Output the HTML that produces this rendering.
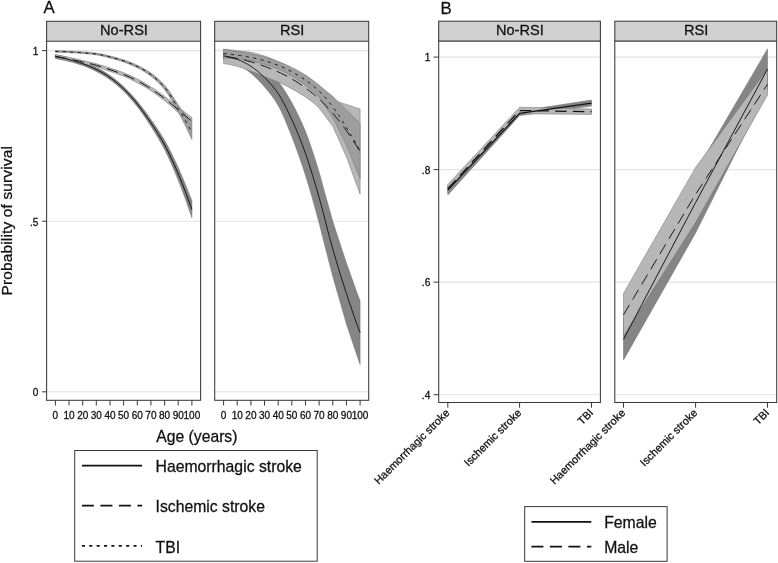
<!DOCTYPE html>
<html><head><meta charset="utf-8"><title>Figure</title>
<style>html,body{margin:0;padding:0;background:#fff;}body{width:778px;height:563px;overflow:hidden;font-family:"Liberation Sans",sans-serif;}svg text{stroke:#111;stroke-width:0.28px;}</style>
</head><body>
<svg width="778" height="563" viewBox="0 0 778 563" style="display:block;will-change:transform;filter:grayscale(1);font-family:'Liberation Sans',sans-serif" fill="#111">
<rect width="778" height="563" fill="#fff"/>
<line x1="46.6" x2="200.6" y1="50.6" y2="50.6" stroke="#e3e3e3" stroke-width="1.1"/>
<line x1="46.6" x2="200.6" y1="221.2" y2="221.2" stroke="#e3e3e3" stroke-width="1.1"/>
<line x1="46.6" x2="200.6" y1="391.8" y2="391.8" stroke="#e3e3e3" stroke-width="1.1"/>
<line x1="214.7" x2="368.7" y1="50.6" y2="50.6" stroke="#e3e3e3" stroke-width="1.1"/>
<line x1="214.7" x2="368.7" y1="221.2" y2="221.2" stroke="#e3e3e3" stroke-width="1.1"/>
<line x1="214.7" x2="368.7" y1="391.8" y2="391.8" stroke="#e3e3e3" stroke-width="1.1"/>
<path d="M55.4,54.8 L58.8,55.4 L62.2,56.1 L65.6,56.8 L69.0,57.7 L72.5,58.5 L75.9,59.5 L79.3,60.6 L82.7,61.7 L86.1,63.0 L89.5,64.3 L92.9,65.8 L96.3,67.4 L99.7,69.2 L103.2,71.1 L106.6,73.2 L110.0,75.5 L113.4,77.9 L116.8,80.6 L120.2,83.5 L123.6,86.5 L127.0,89.9 L130.4,93.5 L133.9,97.3 L137.3,101.3 L140.7,105.5 L144.1,110.0 L147.5,114.6 L150.9,119.4 L154.3,124.3 L157.7,129.3 L161.1,134.6 L164.6,140.3 L168.0,146.5 L171.4,153.1 L174.8,160.2 L178.2,167.5 L181.6,175.2 L185.0,183.4 L188.4,191.9 L191.9,200.8 L191.9,217.8 L188.4,207.7 L185.0,198.0 L181.6,188.8 L178.2,180.1 L174.8,171.8 L171.4,163.9 L168.0,156.4 L164.6,149.5 L161.1,143.1 L157.7,137.2 L154.3,131.6 L150.9,126.2 L147.5,121.0 L144.1,116.0 L140.7,111.2 L137.3,106.7 L133.9,102.5 L130.4,98.4 L127.0,94.6 L123.6,91.1 L120.2,87.9 L116.8,84.9 L113.4,82.2 L110.0,79.7 L106.6,77.3 L103.2,75.2 L99.7,73.2 L96.3,71.4 L92.9,69.7 L89.5,68.2 L86.1,66.8 L82.7,65.5 L79.3,64.4 L75.9,63.3 L72.5,62.3 L69.0,61.5 L65.6,60.6 L62.2,59.9 L58.8,59.2 L55.4,58.6Z" fill="#858585" stroke="#6e6e6e" stroke-width="0.5"/>
<path d="M55.4,54.5 L58.8,55.2 L62.2,55.9 L65.6,56.6 L69.0,57.3 L72.5,58.0 L75.9,58.8 L79.3,59.6 L82.7,60.4 L86.1,61.2 L89.5,62.0 L92.9,62.8 L96.3,63.7 L99.7,64.7 L103.2,65.8 L106.6,66.9 L110.0,68.0 L113.4,69.1 L116.8,70.2 L120.2,71.4 L123.6,72.7 L127.0,74.1 L130.4,75.6 L133.9,77.2 L137.3,78.9 L140.7,80.7 L144.1,82.6 L147.5,84.7 L150.9,86.8 L154.3,89.0 L157.7,91.4 L161.1,93.8 L164.6,96.3 L168.0,98.9 L171.4,101.5 L174.8,104.2 L178.2,106.9 L181.6,109.6 L185.0,112.2 L188.4,114.9 L191.9,117.5 L191.9,124.9 L188.4,121.7 L185.0,118.6 L181.6,115.5 L178.2,112.5 L174.8,109.5 L171.4,106.4 L168.0,103.5 L164.6,100.7 L161.1,98.1 L157.7,95.5 L154.3,93.1 L150.9,90.8 L147.5,88.6 L144.1,86.5 L140.7,84.6 L137.3,82.7 L133.9,81.0 L130.4,79.3 L127.0,77.7 L123.6,76.3 L120.2,75.0 L116.8,73.7 L113.4,72.6 L110.0,71.4 L106.6,70.2 L103.2,69.0 L99.7,67.9 L96.3,66.9 L92.9,66.0 L89.5,65.2 L86.1,64.4 L82.7,63.6 L79.3,62.8 L75.9,62.1 L72.5,61.4 L69.0,60.7 L65.6,60.0 L62.2,59.4 L58.8,58.7 L55.4,58.1Z" fill="#b7b7b7" stroke="#6e6e6e" stroke-width="0.5"/>
<path d="M55.4,50.6 L58.8,50.7 L62.2,50.8 L65.6,50.9 L69.0,51.1 L72.5,51.3 L75.9,51.4 L79.3,51.7 L82.7,51.9 L86.1,52.1 L89.5,52.4 L92.9,52.7 L96.3,53.1 L99.7,53.7 L103.2,54.4 L106.6,55.1 L110.0,56.0 L113.4,56.8 L116.8,57.7 L120.2,58.7 L123.6,59.8 L127.0,61.0 L130.4,62.3 L133.9,63.7 L137.3,65.2 L140.7,66.9 L144.1,68.7 L147.5,70.7 L150.9,73.0 L154.3,75.5 L157.7,78.4 L161.1,81.6 L164.6,85.2 L168.0,89.4 L171.4,94.3 L174.8,99.6 L178.2,104.8 L181.6,109.8 L185.0,114.9 L188.4,120.0 L191.9,125.2 L191.9,139.4 L188.4,132.0 L185.0,125.0 L181.6,118.3 L178.2,112.0 L174.8,105.8 L171.4,99.8 L168.0,94.3 L164.6,89.6 L161.1,85.6 L157.7,82.1 L154.3,78.9 L150.9,76.2 L147.5,73.7 L144.1,71.6 L140.7,69.6 L137.3,67.8 L133.9,66.2 L130.4,64.7 L127.0,63.3 L123.6,62.0 L120.2,60.9 L116.8,59.8 L113.4,58.9 L110.0,58.0 L106.6,57.1 L103.2,56.3 L99.7,55.5 L96.3,54.9 L92.9,54.5 L89.5,54.1 L86.1,53.8 L82.7,53.5 L79.3,53.3 L75.9,53.0 L72.5,52.9 L69.0,52.7 L65.6,52.5 L62.2,52.4 L58.8,52.3 L55.4,52.2Z" fill="#9e9e9e" stroke="#6e6e6e" stroke-width="0.5"/>
<path d="M55.4,56.7 L58.8,57.3 L62.2,58.0 L65.6,58.7 L69.0,59.6 L72.5,60.4 L75.9,61.4 L79.3,62.5 L82.7,63.6 L86.1,64.9 L89.5,66.3 L92.9,67.8 L96.3,69.4 L99.7,71.2 L103.2,73.1 L106.6,75.3 L110.0,77.6 L113.4,80.0 L116.8,82.8 L120.2,85.7 L123.6,88.8 L127.0,92.2 L130.4,95.9 L133.9,99.9 L137.3,104.0 L140.7,108.4 L144.1,113.0 L147.5,117.8 L150.9,122.8 L154.3,127.9 L157.7,133.2 L161.1,138.9 L164.6,144.9 L168.0,151.4 L171.4,158.5 L174.8,166.0 L178.2,173.8 L181.6,182.0 L185.0,190.7 L188.4,199.8 L191.9,209.3" fill="none" stroke="#111" stroke-width="1.0"/>
<path d="M55.4,56.3 L58.8,56.9 L62.2,57.6 L65.6,58.3 L69.0,59.0 L72.5,59.7 L75.9,60.5 L79.3,61.2 L82.7,62.0 L86.1,62.8 L89.5,63.6 L92.9,64.4 L96.3,65.3 L99.7,66.3 L103.2,67.4 L106.6,68.5 L110.0,69.7 L113.4,70.8 L116.8,72.0 L120.2,73.2 L123.6,74.5 L127.0,75.9 L130.4,77.4 L133.9,79.1 L137.3,80.8 L140.7,82.6 L144.1,84.6 L147.5,86.6 L150.9,88.8 L154.3,91.1 L157.7,93.4 L161.1,95.9 L164.6,98.5 L168.0,101.2 L171.4,104.0 L174.8,106.8 L178.2,109.7 L181.6,112.5 L185.0,115.4 L188.4,118.3 L191.9,121.2" fill="none" stroke="#111" stroke-width="1.0" stroke-dasharray="11.5 6.2"/>
<path d="M55.4,51.4 L58.8,51.5 L62.2,51.6 L65.6,51.7 L69.0,51.9 L72.5,52.1 L75.9,52.2 L79.3,52.5 L82.7,52.7 L86.1,53.0 L89.5,53.3 L92.9,53.6 L96.3,54.0 L99.7,54.6 L103.2,55.3 L106.6,56.1 L110.0,57.0 L113.4,57.8 L116.8,58.8 L120.2,59.8 L123.6,60.9 L127.0,62.2 L130.4,63.5 L133.9,65.0 L137.3,66.5 L140.7,68.3 L144.1,70.2 L147.5,72.2 L150.9,74.6 L154.3,77.2 L157.7,80.2 L161.1,83.6 L164.6,87.4 L168.0,91.8 L171.4,97.1 L174.8,102.7 L178.2,108.4 L181.6,114.1 L185.0,119.9 L188.4,126.0 L191.9,132.3" fill="none" stroke="#111" stroke-width="1.0" stroke-dasharray="3.0 4.5"/>
<path d="M223.6,52.9 L227.0,53.2 L230.4,53.7 L233.8,54.2 L237.2,54.9 L240.7,55.7 L244.1,56.7 L247.5,57.9 L250.9,59.3 L254.3,61.0 L257.7,63.1 L261.1,65.6 L264.5,68.2 L267.9,71.0 L271.4,74.2 L274.8,77.7 L278.2,81.6 L281.6,86.0 L285.0,91.1 L288.4,96.7 L291.8,102.6 L295.2,109.0 L298.6,115.9 L302.1,123.4 L305.5,131.5 L308.9,140.5 L312.3,150.4 L315.7,161.0 L319.1,172.0 L322.5,184.4 L325.9,196.8 L329.3,209.1 L332.8,221.5 L336.2,231.9 L339.6,242.2 L343.0,252.6 L346.4,263.0 L349.8,272.5 L353.2,282.1 L356.6,291.6 L360.1,301.1 L360.1,364.5 L356.6,354.4 L353.2,344.2 L349.8,334.1 L346.4,324.0 L343.0,312.1 L339.6,300.2 L336.2,288.4 L332.8,276.5 L329.3,263.1 L325.9,249.8 L322.5,236.4 L319.1,223.0 L315.7,210.5 L312.3,198.3 L308.9,186.6 L305.5,175.5 L302.1,165.0 L298.6,155.0 L295.2,145.5 L291.8,136.6 L288.4,128.0 L285.0,119.7 L281.6,112.1 L278.2,105.6 L274.8,100.1 L271.4,95.2 L267.9,90.9 L264.5,86.8 L261.1,83.0 L257.7,79.5 L254.3,76.2 L250.9,73.3 L247.5,70.6 L244.1,68.0 L240.7,65.8 L237.2,63.9 L233.8,62.3 L230.4,60.9 L227.0,59.8 L223.6,58.9Z" fill="#858585" stroke="#6e6e6e" stroke-width="0.5"/>
<path d="M223.6,49.2 L227.0,49.6 L230.4,49.9 L233.8,50.3 L237.2,50.7 L240.7,51.1 L244.1,51.4 L247.5,51.8 L250.9,52.3 L254.3,53.0 L257.7,53.9 L261.1,54.9 L264.5,56.0 L267.9,57.2 L271.4,58.6 L274.8,60.2 L278.2,61.7 L281.6,63.3 L285.0,65.1 L288.4,66.9 L291.8,68.9 L295.2,71.1 L298.6,73.5 L302.1,76.1 L305.5,78.7 L308.9,81.5 L312.3,84.3 L315.7,87.2 L319.1,90.0 L322.5,92.5 L325.9,95.1 L329.3,97.7 L332.8,100.2 L336.2,101.3 L339.6,102.3 L343.0,103.4 L346.4,104.4 L349.8,105.5 L353.2,106.7 L356.6,107.8 L360.1,108.9 L360.1,194.1 L356.6,184.8 L353.2,175.4 L349.8,166.1 L346.4,156.8 L343.0,149.2 L339.6,141.5 L336.2,133.9 L332.8,126.2 L329.3,121.7 L325.9,117.1 L322.5,112.5 L319.1,108.0 L315.7,104.8 L312.3,102.0 L308.9,99.5 L305.5,97.1 L302.1,94.9 L298.6,92.7 L295.2,90.7 L291.8,88.9 L288.4,87.0 L285.0,85.3 L281.6,83.7 L278.2,82.1 L274.8,80.7 L271.4,79.3 L267.9,77.9 L264.5,76.6 L261.1,75.3 L257.7,73.9 L254.3,72.6 L250.9,71.3 L247.5,70.0 L244.1,68.6 L240.7,67.4 L237.2,66.3 L233.8,65.5 L230.4,64.7 L227.0,64.1 L223.6,63.6Z" fill="#b7b7b7" stroke="#6e6e6e" stroke-width="0.5"/>
<path d="M223.6,49.3 L227.0,49.8 L230.4,50.3 L233.8,50.9 L237.2,51.5 L240.7,52.1 L244.1,52.7 L247.5,53.3 L250.9,54.0 L254.3,54.7 L257.7,55.4 L261.1,56.2 L264.5,57.1 L267.9,58.0 L271.4,59.1 L274.8,60.2 L278.2,61.5 L281.6,62.8 L285.0,64.2 L288.4,65.7 L291.8,67.4 L295.2,69.1 L298.6,70.9 L302.1,72.9 L305.5,75.0 L308.9,77.3 L312.3,79.8 L315.7,82.4 L319.1,85.1 L322.5,87.9 L325.9,90.7 L329.3,93.5 L332.8,96.3 L336.2,99.7 L339.6,103.2 L343.0,106.6 L346.4,110.0 L349.8,113.4 L353.2,116.8 L356.6,120.1 L360.1,123.5 L360.1,178.1 L356.6,169.8 L353.2,161.6 L349.8,153.3 L346.4,145.0 L343.0,138.1 L339.6,131.2 L336.2,124.2 L332.8,117.3 L329.3,112.3 L325.9,107.2 L322.5,102.2 L319.1,97.1 L315.7,93.6 L312.3,90.6 L308.9,87.8 L305.5,85.2 L302.1,82.7 L298.6,80.4 L295.2,78.2 L291.8,76.2 L288.4,74.2 L285.0,72.3 L281.6,70.6 L278.2,69.1 L274.8,67.7 L271.4,66.5 L267.9,65.3 L264.5,64.3 L261.1,63.3 L257.7,62.4 L254.3,61.5 L250.9,60.8 L247.5,60.2 L244.1,59.5 L240.7,59.0 L237.2,58.7 L233.8,58.5 L230.4,58.3 L227.0,58.1 L223.6,58.1Z" fill="#9e9e9e" stroke="#6e6e6e" stroke-width="0.5"/>
<path d="M223.6,55.9 L227.0,56.5 L230.4,57.3 L233.8,58.3 L237.2,59.4 L240.7,60.7 L244.1,62.4 L247.5,64.2 L250.9,66.3 L254.3,68.6 L257.7,71.3 L261.1,74.3 L264.5,77.5 L267.9,80.9 L271.4,84.7 L274.8,88.9 L278.2,93.6 L281.6,99.1 L285.0,105.4 L288.4,112.3 L291.8,119.6 L295.2,127.2 L298.6,135.4 L302.1,144.2 L305.5,153.5 L308.9,163.5 L312.3,174.4 L315.7,185.7 L319.1,197.5 L322.5,210.0 L325.9,223.2 L329.3,236.5 L332.8,249.0 L336.2,260.7 L339.6,272.0 L343.0,282.9 L346.4,293.5 L349.8,303.8 L353.2,313.8 L356.6,323.5 L360.1,332.8" fill="none" stroke="#111" stroke-width="0.9"/>
<path d="M223.6,56.4 L227.0,56.8 L230.4,57.3 L233.8,57.9 L237.2,58.5 L240.7,59.2 L244.1,60.0 L247.5,60.9 L250.9,61.8 L254.3,62.8 L257.7,63.9 L261.1,65.1 L264.5,66.3 L267.9,67.6 L271.4,69.0 L274.8,70.4 L278.2,71.9 L281.6,73.5 L285.0,75.2 L288.4,77.0 L291.8,78.9 L295.2,80.9 L298.6,83.1 L302.1,85.5 L305.5,87.9 L308.9,90.5 L312.3,93.1 L315.7,96.0 L319.1,99.0 L322.5,102.2 L325.9,105.7 L329.3,109.4 L332.8,113.2 L336.2,117.3 L339.6,121.5 L343.0,126.0 L346.4,130.6 L349.8,135.5 L353.2,140.6 L356.6,145.9 L360.1,151.5" fill="none" stroke="#111" stroke-width="0.95" stroke-dasharray="11.4 6.1" stroke-dashoffset="-3.0"/>
<path d="M223.6,53.7 L227.0,53.9 L230.4,54.3 L233.8,54.7 L237.2,55.1 L240.7,55.6 L244.1,56.1 L247.5,56.8 L250.9,57.4 L254.3,58.1 L257.7,58.9 L261.1,59.7 L264.5,60.7 L267.9,61.7 L271.4,62.8 L274.8,64.0 L278.2,65.3 L281.6,66.7 L285.0,68.3 L288.4,70.0 L291.8,71.8 L295.2,73.6 L298.6,75.7 L302.1,77.8 L305.5,80.1 L308.9,82.6 L312.3,85.2 L315.7,88.0 L319.1,91.1 L322.5,94.5 L325.9,98.3 L329.3,102.4 L332.8,106.8 L336.2,111.5 L339.6,116.6 L343.0,122.0 L346.4,127.5 L349.8,133.1 L353.2,138.8 L356.6,144.7 L360.1,150.8" fill="none" stroke="#111" stroke-width="0.95" stroke-dasharray="3.0 4.5"/>
<rect x="46.6" y="21.3" width="154.0" height="20.0" fill="#d0d0d0"/>
<rect x="46.6" y="21.3" width="154.0" height="379.0" fill="none" stroke="#3a3a3a" stroke-width="1.05"/>
<line x1="46.6" x2="200.6" y1="41.3" y2="41.3" stroke="#3a3a3a" stroke-width="1.05"/>
<text x="124.0" y="35.2" font-size="14.6" text-anchor="middle">No-RSI</text>
<rect x="214.7" y="21.3" width="154.0" height="20.0" fill="#d0d0d0"/>
<rect x="214.7" y="21.3" width="154.0" height="379.0" fill="none" stroke="#3a3a3a" stroke-width="1.05"/>
<line x1="214.7" x2="368.7" y1="41.3" y2="41.3" stroke="#3a3a3a" stroke-width="1.05"/>
<text x="292.1" y="35.2" font-size="14.6" text-anchor="middle">RSI</text>
<line x1="42.0" x2="46.6" y1="50.6" y2="50.6" stroke="#3a3a3a" stroke-width="1.0"/>
<text x="38.3" y="55.1" font-size="10" text-anchor="end">1</text>
<line x1="42.0" x2="46.6" y1="221.2" y2="221.2" stroke="#3a3a3a" stroke-width="1.0"/>
<text x="38.3" y="225.7" font-size="10" text-anchor="end">.5</text>
<line x1="42.0" x2="46.6" y1="391.8" y2="391.8" stroke="#3a3a3a" stroke-width="1.0"/>
<text x="38.3" y="396.3" font-size="10" text-anchor="end">0</text>
<line x1="55.4" x2="55.4" y1="400.3" y2="405.5" stroke="#3a3a3a" stroke-width="1.0"/>
<text x="55.4" y="418.9" font-size="10" text-anchor="middle">0</text>
<line x1="69.0" x2="69.0" y1="400.3" y2="405.5" stroke="#3a3a3a" stroke-width="1.0"/>
<text x="69.0" y="418.9" font-size="10" text-anchor="middle">10</text>
<line x1="82.7" x2="82.7" y1="400.3" y2="405.5" stroke="#3a3a3a" stroke-width="1.0"/>
<text x="82.7" y="418.9" font-size="10" text-anchor="middle">20</text>
<line x1="96.3" x2="96.3" y1="400.3" y2="405.5" stroke="#3a3a3a" stroke-width="1.0"/>
<text x="96.3" y="418.9" font-size="10" text-anchor="middle">30</text>
<line x1="110.0" x2="110.0" y1="400.3" y2="405.5" stroke="#3a3a3a" stroke-width="1.0"/>
<text x="110.0" y="418.9" font-size="10" text-anchor="middle">40</text>
<line x1="123.6" x2="123.6" y1="400.3" y2="405.5" stroke="#3a3a3a" stroke-width="1.0"/>
<text x="123.6" y="418.9" font-size="10" text-anchor="middle">50</text>
<line x1="137.3" x2="137.3" y1="400.3" y2="405.5" stroke="#3a3a3a" stroke-width="1.0"/>
<text x="137.3" y="418.9" font-size="10" text-anchor="middle">60</text>
<line x1="150.9" x2="150.9" y1="400.3" y2="405.5" stroke="#3a3a3a" stroke-width="1.0"/>
<text x="150.9" y="418.9" font-size="10" text-anchor="middle">70</text>
<line x1="164.6" x2="164.6" y1="400.3" y2="405.5" stroke="#3a3a3a" stroke-width="1.0"/>
<text x="164.6" y="418.9" font-size="10" text-anchor="middle">80</text>
<line x1="178.2" x2="178.2" y1="400.3" y2="405.5" stroke="#3a3a3a" stroke-width="1.0"/>
<text x="178.2" y="418.9" font-size="10" text-anchor="middle">90</text>
<line x1="191.9" x2="191.9" y1="400.3" y2="405.5" stroke="#3a3a3a" stroke-width="1.0"/>
<text x="191.9" y="418.9" font-size="10" text-anchor="middle">100</text>
<line x1="223.6" x2="223.6" y1="400.3" y2="405.5" stroke="#3a3a3a" stroke-width="1.0"/>
<text x="223.6" y="418.9" font-size="10" text-anchor="middle">0</text>
<line x1="237.2" x2="237.2" y1="400.3" y2="405.5" stroke="#3a3a3a" stroke-width="1.0"/>
<text x="237.2" y="418.9" font-size="10" text-anchor="middle">10</text>
<line x1="250.9" x2="250.9" y1="400.3" y2="405.5" stroke="#3a3a3a" stroke-width="1.0"/>
<text x="250.9" y="418.9" font-size="10" text-anchor="middle">20</text>
<line x1="264.5" x2="264.5" y1="400.3" y2="405.5" stroke="#3a3a3a" stroke-width="1.0"/>
<text x="264.5" y="418.9" font-size="10" text-anchor="middle">30</text>
<line x1="278.2" x2="278.2" y1="400.3" y2="405.5" stroke="#3a3a3a" stroke-width="1.0"/>
<text x="278.2" y="418.9" font-size="10" text-anchor="middle">40</text>
<line x1="291.8" x2="291.8" y1="400.3" y2="405.5" stroke="#3a3a3a" stroke-width="1.0"/>
<text x="291.8" y="418.9" font-size="10" text-anchor="middle">50</text>
<line x1="305.5" x2="305.5" y1="400.3" y2="405.5" stroke="#3a3a3a" stroke-width="1.0"/>
<text x="305.5" y="418.9" font-size="10" text-anchor="middle">60</text>
<line x1="319.1" x2="319.1" y1="400.3" y2="405.5" stroke="#3a3a3a" stroke-width="1.0"/>
<text x="319.1" y="418.9" font-size="10" text-anchor="middle">70</text>
<line x1="332.8" x2="332.8" y1="400.3" y2="405.5" stroke="#3a3a3a" stroke-width="1.0"/>
<text x="332.8" y="418.9" font-size="10" text-anchor="middle">80</text>
<line x1="346.4" x2="346.4" y1="400.3" y2="405.5" stroke="#3a3a3a" stroke-width="1.0"/>
<text x="346.4" y="418.9" font-size="10" text-anchor="middle">90</text>
<line x1="360.1" x2="360.1" y1="400.3" y2="405.5" stroke="#3a3a3a" stroke-width="1.0"/>
<text x="360.1" y="418.9" font-size="10" text-anchor="middle">100</text>
<text x="196.9" y="441.6" font-size="15.7" text-anchor="middle">Age (years)</text>
<text transform="translate(12.3,220.8) rotate(-90)" font-size="15.5" text-anchor="middle" textLength="149.4" lengthAdjust="spacing">Probability of survival</text>
<text x="43.6" y="12.9" font-size="16.8">A</text>
<rect x="74.7" y="450.5" width="242.5" height="110.7" fill="#fff" stroke="#3a3a3a" stroke-width="1.0"/>
<line x1="81.9" x2="142.1" y1="465.6" y2="465.6" stroke="#111" stroke-width="1.8"/>
<line x1="81.9" x2="142.1" y1="505.7" y2="505.7" stroke="#111" stroke-width="1.8" stroke-dasharray="12 6.5"/>
<line x1="81.9" x2="142.1" y1="545.9" y2="545.9" stroke="#111" stroke-width="1.8" stroke-dasharray="3.0 4.375"/>
<text x="155.6" y="472.2" font-size="15.75">Haemorrhagic stroke</text>
<text x="155.6" y="512.3" font-size="15.75">Ischemic stroke</text>
<text x="155.6" y="552.7" font-size="15.75">TBI</text>
<line x1="438.7" x2="600.4" y1="57.1" y2="57.1" stroke="#e3e3e3" stroke-width="1.1"/>
<line x1="438.7" x2="600.4" y1="169.6" y2="169.6" stroke="#e3e3e3" stroke-width="1.1"/>
<line x1="438.7" x2="600.4" y1="282.1" y2="282.1" stroke="#e3e3e3" stroke-width="1.1"/>
<line x1="438.7" x2="600.4" y1="394.7" y2="394.7" stroke="#e3e3e3" stroke-width="1.1"/>
<line x1="614.8" x2="776.7" y1="57.1" y2="57.1" stroke="#e3e3e3" stroke-width="1.1"/>
<line x1="614.8" x2="776.7" y1="169.6" y2="169.6" stroke="#e3e3e3" stroke-width="1.1"/>
<line x1="614.8" x2="776.7" y1="282.1" y2="282.1" stroke="#e3e3e3" stroke-width="1.1"/>
<line x1="614.8" x2="776.7" y1="394.7" y2="394.7" stroke="#e3e3e3" stroke-width="1.1"/>
<path d="M447.8,185.6 L519.6,111.0 L591.5,100.1 L591.5,106.1 L519.6,115.6 L447.8,195.0Z" fill="#858585" stroke="#6e6e6e" stroke-width="0.5"/>
<path d="M447.8,184.4 L519.6,107.2 L591.5,109.0 L591.5,114.4 L519.6,113.8 L447.8,192.8Z" fill="#b7b7b7" stroke="#6e6e6e" stroke-width="0.5"/>
<path d="M447.8,190.3 L519.6,113.3 L591.5,103.1" fill="none" stroke="#111" stroke-width="1.25"/>
<path d="M447.8,188.6 L519.6,110.5 L591.5,111.7" fill="none" stroke="#111" stroke-width="1.25" stroke-dasharray="11.5 6.2"/>
<path d="M623.5,318.5 L695.6,172.1 L767.5,48.9 L767.5,89.1 L695.6,232.9 L623.5,360.1Z" fill="#858585" stroke="#6e6e6e" stroke-width="0.5"/>
<path d="M623.5,293.5 L695.6,167.5 L767.5,69.0 L767.5,95.0 L695.6,222.5 L623.5,336.1Z" fill="#b7b7b7" stroke="#6e6e6e" stroke-width="0.5"/>
<path d="M623.5,339.3 L695.6,202.5 L767.5,69.0" fill="none" stroke="#111" stroke-width="0.95"/>
<path d="M623.5,314.8 L695.6,194.3 L767.5,84.3" fill="none" stroke="#111" stroke-width="0.95" stroke-dasharray="11.5 6.2"/>
<rect x="438.7" y="21.2" width="161.7" height="19.9" fill="#d0d0d0"/>
<rect x="438.7" y="21.2" width="161.7" height="381.3" fill="none" stroke="#3a3a3a" stroke-width="1.05"/>
<line x1="438.7" x2="600.4" y1="41.1" y2="41.1" stroke="#3a3a3a" stroke-width="1.05"/>
<text x="519.9" y="35.0" font-size="14.6" text-anchor="middle">No-RSI</text>
<rect x="614.8" y="21.2" width="161.9" height="19.9" fill="#d0d0d0"/>
<rect x="614.8" y="21.2" width="161.9" height="381.3" fill="none" stroke="#3a3a3a" stroke-width="1.05"/>
<line x1="614.8" x2="776.7" y1="41.1" y2="41.1" stroke="#3a3a3a" stroke-width="1.05"/>
<text x="696.1" y="35.0" font-size="14.6" text-anchor="middle">RSI</text>
<line x1="433.5" x2="438.7" y1="57.1" y2="57.1" stroke="#3a3a3a" stroke-width="1.0"/>
<text x="430.3" y="61.0" font-size="10.2" text-anchor="end">1</text>
<line x1="433.5" x2="438.7" y1="169.6" y2="169.6" stroke="#3a3a3a" stroke-width="1.0"/>
<text x="430.3" y="173.5" font-size="10.2" text-anchor="end">.8</text>
<line x1="433.5" x2="438.7" y1="282.1" y2="282.1" stroke="#3a3a3a" stroke-width="1.0"/>
<text x="430.3" y="286.0" font-size="10.2" text-anchor="end">.6</text>
<line x1="433.5" x2="438.7" y1="394.7" y2="394.7" stroke="#3a3a3a" stroke-width="1.0"/>
<text x="430.3" y="398.6" font-size="10.2" text-anchor="end">.4</text>
<line x1="447.8" x2="447.8" y1="402.5" y2="407.7" stroke="#3a3a3a" stroke-width="1.0"/>
<text transform="translate(448.0,411.2) rotate(-45)" font-size="10.9" text-anchor="end" dy="3.2">Haemorrhagic stroke</text>
<line x1="519.6" x2="519.6" y1="402.5" y2="407.7" stroke="#3a3a3a" stroke-width="1.0"/>
<text transform="translate(519.8,411.2) rotate(-45)" font-size="10.9" text-anchor="end" dy="3.2">Ischemic stroke</text>
<line x1="591.5" x2="591.5" y1="402.5" y2="407.7" stroke="#3a3a3a" stroke-width="1.0"/>
<text transform="translate(591.7,411.2) rotate(-45)" font-size="10.9" text-anchor="end" dy="3.2">TBI</text>
<line x1="623.5" x2="623.5" y1="402.5" y2="407.7" stroke="#3a3a3a" stroke-width="1.0"/>
<text transform="translate(623.7,411.2) rotate(-45)" font-size="10.9" text-anchor="end" dy="3.2">Haemorrhagic stroke</text>
<line x1="695.6" x2="695.6" y1="402.5" y2="407.7" stroke="#3a3a3a" stroke-width="1.0"/>
<text transform="translate(695.8,411.2) rotate(-45)" font-size="10.9" text-anchor="end" dy="3.2">Ischemic stroke</text>
<line x1="767.5" x2="767.5" y1="402.5" y2="407.7" stroke="#3a3a3a" stroke-width="1.0"/>
<text transform="translate(767.7,411.2) rotate(-45)" font-size="10.9" text-anchor="end" dy="3.2">TBI</text>
<text x="440.6" y="13.5" font-size="16.8">B</text>
<rect x="524.7" y="506.6" width="142.4" height="54.7" fill="#fff" stroke="#3a3a3a" stroke-width="1.0"/>
<line x1="531.4" x2="591.3" y1="521.9" y2="521.9" stroke="#111" stroke-width="1.8"/>
<line x1="531.4" x2="591.3" y1="546.6" y2="546.6" stroke="#111" stroke-width="1.8" stroke-dasharray="12 6.5"/>
<text x="604.2" y="527.9" font-size="15.75">Female</text>
<text x="604.2" y="552.8" font-size="15.75">Male</text>
</svg>
</body></html>
